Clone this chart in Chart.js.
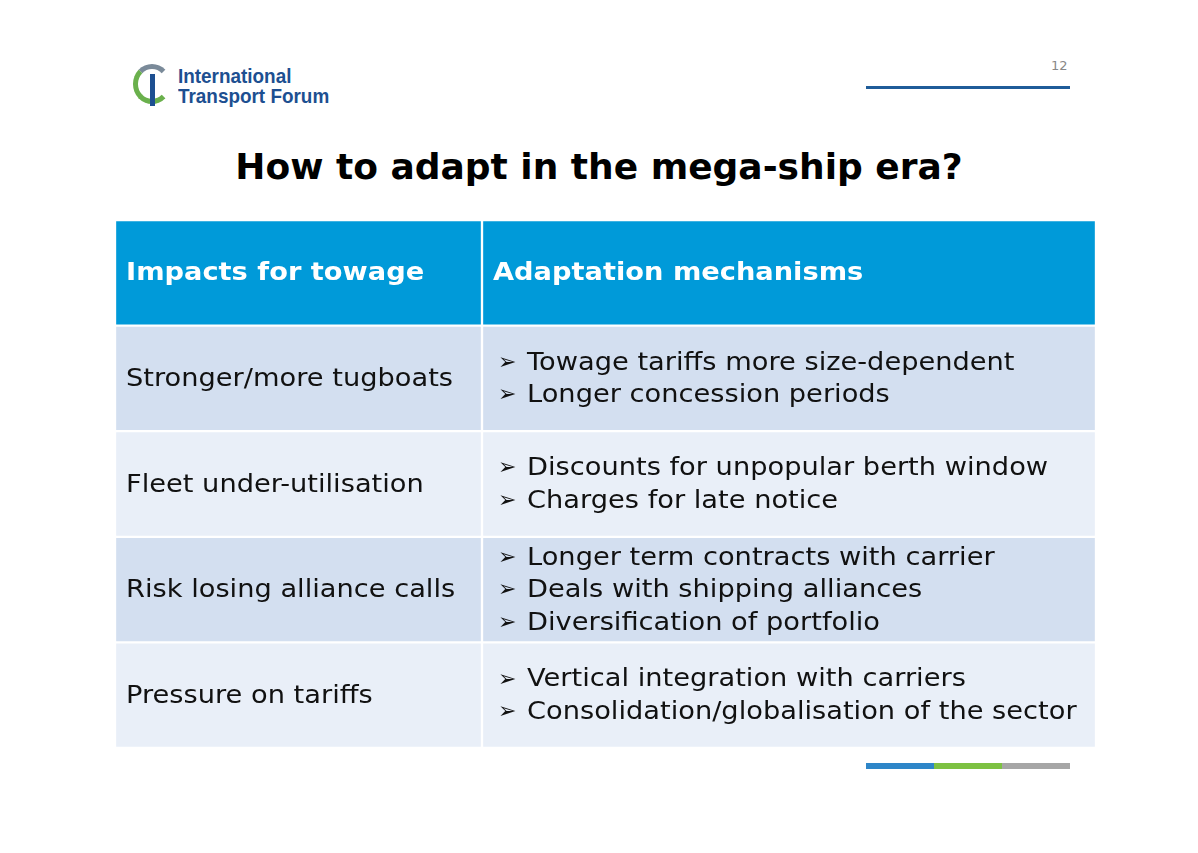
<!DOCTYPE html>
<html>
<head>
<meta charset="utf-8">
<script src="https://cdn.jsdelivr.net/npm/chart.js@4"></script>
<style>
  body { margin:0; width:1198px; height:853px; background:#fff; position:relative; font-family:"DejaVu Sans", sans-serif; overflow:hidden; }
  #wrap { position:absolute; left:115px; top:220px; width:981px; height:528px; }
  .title { position:absolute; left:0; width:1198px; top:146px; text-align:center; font-weight:bold; font-size:36px; color:#000; }
  .logo { position:absolute; left:178px; top:66px; font-family:"Liberation Sans Narrow","Liberation Sans",sans-serif; font-weight:bold; font-size:21px; line-height:20px; color:#1d4f91; transform:scaleX(0.9); transform-origin:left; }
  .swoosh { position:absolute; left:133px; top:64px; width:38px; height:40px; border-radius:50%; border:5px solid #6ab04c; border-right-color:transparent; border-top-color:#7a8a99; box-sizing:border-box; }
  .stem { position:absolute; left:150px; top:74px; width:5px; height:32px; background:#1d4f91; }
  .page { position:absolute; left:1051px; top:58px; font-size:13px; color:#888; }
</style>
</head>
<body>
<div class="swoosh"></div><div class="stem"></div>
<div class="logo">International<br>Transport Forum</div>
<div class="page">12</div>
<div style="position:absolute;left:866px;top:86px;width:204px;height:3px;background:#1f5c99"></div>
<div class="title">How to adapt in the mega-ship era?</div>
<div id="wrap"><canvas id="tbl"></canvas></div>
<div style="position:absolute;left:866px;top:763px;width:68px;height:6px;background:#2e86c8"></div>
<div style="position:absolute;left:934px;top:763px;width:68px;height:6px;background:#7dc142"></div>
<div style="position:absolute;left:1002px;top:763px;width:68px;height:6px;background:#a6a6a6"></div>
<script>
var headers = ['Impacts for towage', 'Adaptation mechanisms'];
var impacts = ['Stronger/more tugboats', 'Fleet under-utilisation', 'Risk losing alliance calls', 'Pressure on tariffs'];
var mechanisms = [
  ['Towage tariffs more size-dependent', 'Longer concession periods'],
  ['Discounts for unpopular berth window', 'Charges for late notice'],
  ['Longer term contracts with carrier', 'Deals with shipping alliances', 'Diversification of portfolio'],
  ['Vertical integration with carriers', 'Consolidation/globalisation of the sector']
];
var colWidths = [367, 614];
var rowColors = ['#009ad9', '#d3dff0', '#e9eff8', '#d3dff0', '#e9eff8'];

var rows = ['h'].concat(impacts);

// Verdana is wider than DejaVu Sans, so stretch text a little
function wideText(ctx, t, x, y) {
  ctx.save();
  ctx.translate(x, y);
  ctx.scale(1.09, 1);
  ctx.fillText(t, 0, 0);
  ctx.restore();
}

var textPlugin = {
  id: 'cellText',
  afterDatasetsDraw: function (chart) {
    var ctx = chart.ctx;
    var m0 = chart.getDatasetMeta(0), m1 = chart.getDatasetMeta(1);
    ctx.save();
    ctx.textBaseline = 'middle';
    rows.forEach(function (r, i) {
      var a = m0.data[i], b = m1.data[i];
      if (i === 0) {
        ctx.fillStyle = '#fff';
        ctx.font = 'bold 25px "DejaVu Sans"';
        wideText(ctx, headers[0], a.base + 11, a.y + 1);
        wideText(ctx, headers[1], b.base + 11, b.y + 1);
        return;
      }
      ctx.fillStyle = '#111';
      ctx.font = '25px "DejaVu Sans"';
      wideText(ctx, impacts[i - 1], a.base + 11, a.y + 1);
      var lines = mechanisms[i - 1], lh = 32.5;
      var y0 = b.y + 1 - (lines.length - 1) * lh / 2;
      lines.forEach(function (t, k) {
        ctx.font = 'bold 22px "DejaVu Sans"';
        ctx.fillText('\u27A2', b.base + 16, y0 + k * lh);
        ctx.font = '25px "DejaVu Sans"';
        wideText(ctx, t, b.base + 45, y0 + k * lh);
      });
    });
    ctx.restore();
  }
};

new Chart(document.getElementById('tbl').getContext('2d'), {
  type: 'bar',
  data: {
    labels: rows,
    datasets: [0, 1].map(function (c) {
      return {
        data: rows.map(function () { return colWidths[c]; }),
        backgroundColor: rowColors,
        borderColor: '#ffffff',
        borderWidth: 1.5,
        borderSkipped: false,
        barPercentage: 1,
        categoryPercentage: 1
      };
    })
  },
  options: {
    indexAxis: 'y',
    responsive: true,
    maintainAspectRatio: false,
    animation: false,
    layout: { padding: 0 },
    plugins: { legend: { display: false }, tooltip: { enabled: false } },
    scales: {
      x: { stacked: true, min: 0, max: 981, display: false },
      y: { stacked: true, display: false, offset: true }
    }
  },
  plugins: [textPlugin]
});
</script>
</body>
</html>
